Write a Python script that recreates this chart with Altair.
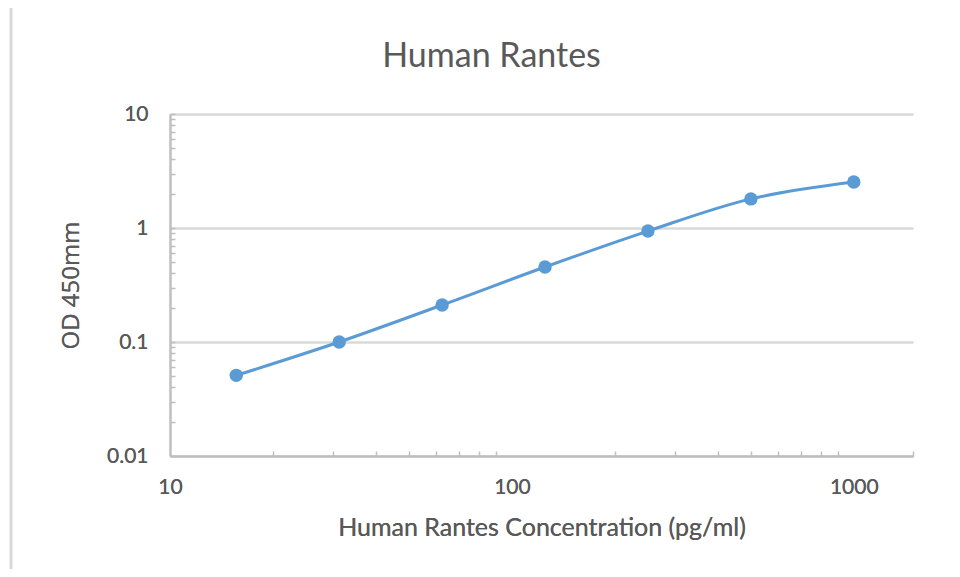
import altair as alt
import pandas as pd

# Data
concentration = [15.625, 31.25, 62.5, 125, 250, 500, 1000]
od450 = [0.051, 0.100, 0.211, 0.455, 0.94, 1.80, 2.53]

x_major = [10, 100, 1000]
x_minor = [20, 30, 40, 50, 60, 70, 80, 90,
           200, 300, 400, 500, 600, 700, 800, 900, 1490]
y_major = [0.01, 0.1, 1, 10]
y_minor = [0.02, 0.03, 0.04, 0.05, 0.06, 0.07, 0.08, 0.09,
           0.1, 0.2, 0.3, 0.4, 0.5, 0.6, 0.7, 0.8, 0.9,
           1, 2, 3, 4, 5, 6, 7, 8, 9, 10]

df = pd.DataFrame({"conc": concentration, "od": od450})

BLUE = "#5B9BD5"
TEXT = "#595959"
AXIS = "#BFBFBF"
GRID = "#D9D9D9"

xs = alt.Scale(type="log", domain=[10, 1490], nice=False)
ys = alt.Scale(type="log", domain=[0.01, 10], nice=False)

label_expr = "format(datum.value, '~g')"

main_x = alt.Axis(
    orient="bottom", values=x_major, labelExpr=label_expr, ticks=False, grid=False,
    domainColor=AXIS, domainWidth=2, labelFont="Lato", labelFontSize=21,
    labelColor=TEXT, labelPadding=20, title="Human Rantes Concentration (pg/ml)",
    titleFont="Lato", titleFontSize=25, titleFontWeight="normal", titleColor=TEXT,
    titlePadding=18, labelFlush=False,
)
main_y = alt.Axis(
    orient="left", values=y_major, labelExpr=label_expr, ticks=False, grid=True,
    gridColor=GRID, gridWidth=2, domainColor=AXIS, domainWidth=2,
    labelFont="Lato", labelFontSize=21, labelColor=TEXT, labelPadding=22,
    title="OD 450mm", titleFont="Open Sans", titleFontSize=24,
    titleFontWeight="normal", titleColor=TEXT, titlePadding=23, labelFlush=False,
)
tick_x = alt.Axis(
    orient="bottom", values=x_minor, labels=False, domain=False, grid=False,
    ticks=True, tickSize=5, tickColor=AXIS, tickWidth=1.5, offset=-5, title=None,
)
tick_y = alt.Axis(
    orient="left", values=y_minor, labels=False, domain=False, grid=False,
    ticks=True, tickSize=5, tickColor=AXIS, tickWidth=1.5, offset=-5, title=None,
)

base = alt.Chart(df)

line = base.mark_line(color=BLUE, strokeWidth=3, interpolate="monotone").encode(
    x=alt.X("conc:Q", scale=xs, axis=main_x),
    y=alt.Y("od:Q", scale=ys, axis=main_y),
)
points = base.mark_circle(color=BLUE, size=180, opacity=1).encode(
    x=alt.X("conc:Q", scale=xs, axis=main_x),
    y=alt.Y("od:Q", scale=ys, axis=main_y),
)
minor = base.mark_point(opacity=0).encode(
    x=alt.X("conc:Q", scale=xs, axis=tick_x),
    y=alt.Y("od:Q", scale=ys, axis=tick_y),
)

frame = alt.Chart(pd.DataFrame({"a": [0]})).mark_rule(
    color=GRID, strokeWidth=3
).encode(x=alt.value(-159), y=alt.value(-106), y2=alt.value(455))

chart = (
    alt.layer(line, points, minor, frame)
    .resolve_axis(x="independent", y="independent")
    .properties(
        width=743,
        height=342,
        autosize=alt.AutoSizeParams(type="none"),
        padding={"left": 162, "top": 106, "right": 39, "bottom": 113},
        background="white",
        title=alt.TitleParams(
            "Human Rantes", font="Lato", fontSize=34, fontWeight="normal",
            color=TEXT, offset=-67, dx=-50, anchor="middle", frame="group",
        ),
    )
    .configure_view(stroke=None)
)

chart.save("out.html", embed_options={"renderer": "svg", "actions": False})
